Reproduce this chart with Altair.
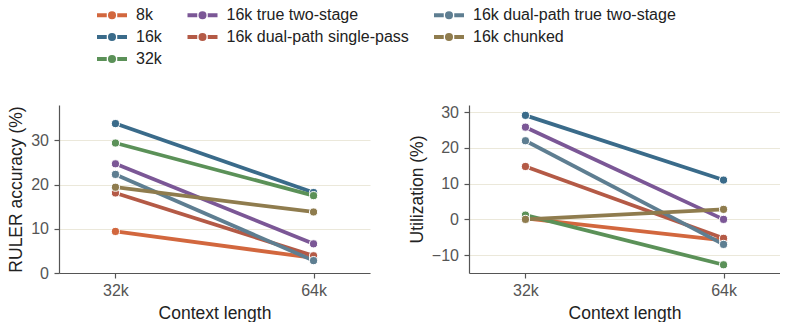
import altair as alt
import pandas as pd

series = ["8k", "16k", "32k", "16k true two-stage", "16k dual-path single-pass",
          "16k dual-path true two-stage", "16k chunked"]
colors = ["#d2673e", "#3a6b8a", "#5b9158", "#7b5796", "#b45a46", "#5e7e91", "#8f7c4e"]
ctx = ["32k", "64k"]
acc_32k = [9.4, 33.8, 29.4, 24.7, 18.1, 22.3, 19.4]
acc_64k = [3.4, 18.2, 17.5, 6.6, 3.9, 2.8, 13.8]
util_32k = [0.3, 29.1, 1.2, 25.8, 14.8, 22.0, 0.0]
util_64k = [-5.9, 11.0, -12.7, 0.0, -5.3, -7.0, 2.8]

rows = []
for i, s in enumerate(series):
    rows.append({"series": s, "ctx": ctx[0], "acc": acc_32k[i], "util": util_32k[i], "ord": i})
    rows.append({"series": s, "ctx": ctx[1], "acc": acc_64k[i], "util": util_64k[i], "ord": i})
df = pd.DataFrame(rows)

# legend is filled row-major with 3 columns -> reorder to mimic column-major layout
legend_order = [series[0], series[3], series[5], series[1], series[4], series[6], series[2]]

FONT = "Liberation Sans"
sym_path = "M-2,0H-0.7M0.7,0H2M0.27,0A0.27,0.27,0,1,1,-0.27,0A0.27,0.27,0,1,1,0.27,0Z"

legend = alt.Legend(
    title=None, orient="none", legendX=43.5, legendY=-99.5, columns=3, gridAlign="each",
    direction="horizontal", values=legend_order,
    symbolType=sym_path, symbolSize=225, symbolStrokeWidth=4,
    labelFont=FONT, labelFontSize=16, labelColor="#222222", labelOffset=14.5,
    rowPadding=1, columnPadding=16.5, labelLimit=400, padding=0,
)

xenc = alt.X(
    "ctx:N",
    scale=alt.Scale(type="point", domain=ctx, padding=0.285),
    axis=alt.Axis(title="Context length", labelAngle=0, grid=False, labelPadding=4, titlePadding=6),
)


def panel(field, title, domain, ticks, show_legend):
    yenc = alt.Y(
        f"{field}:Q",
        scale=alt.Scale(domain=domain, nice=False, zero=False),
        axis=alt.Axis(title=title, values=ticks, grid=True, labelPadding=5.5, titlePadding=5),
    )
    base = alt.Chart(df)
    line = base.mark_line(strokeWidth=3.8).encode(
        x=xenc, y=yenc,
        color=alt.Color("series:N", scale=alt.Scale(domain=series, range=colors),
                        legend=legend if show_legend else None),
        detail="series:N",
    )
    pts = base.mark_point(filled=True, size=66, stroke="white", strokeWidth=1, opacity=1).encode(
        x=xenc, y=yenc,
        fill=alt.Fill("series:N", scale=alt.Scale(domain=series, range=colors), legend=None),
        order="ord:Q",
    )
    return alt.layer(line, pts).properties(width=311, height=168)


left = panel("acc", "RULER accuracy (%)", [0, 38], [0, 10, 20, 30], True)
right = panel("util", "Utilization (%)", [-15, 32], [-10, 0, 10, 20, 30], False)

chart = alt.hconcat(left, right, spacing=38).properties(
    padding={"left": 7, "top": 5, "right": 0, "bottom": 0}
).configure_view(stroke=None).configure_axis(
    domainColor="#555555", domainWidth=1.2, tickColor="#555555", tickWidth=1.2, tickSize=5,
    labelFont=FONT, labelFontSize=16, labelColor="#555555",
    titleFont=FONT, titleFontSize=17.5, titleFontWeight="normal", titleColor="#222222",
    gridColor="#ebe8da", gridWidth=1,
)

chart.save("out.html", embed_options={"renderer": "svg", "actions": False})
